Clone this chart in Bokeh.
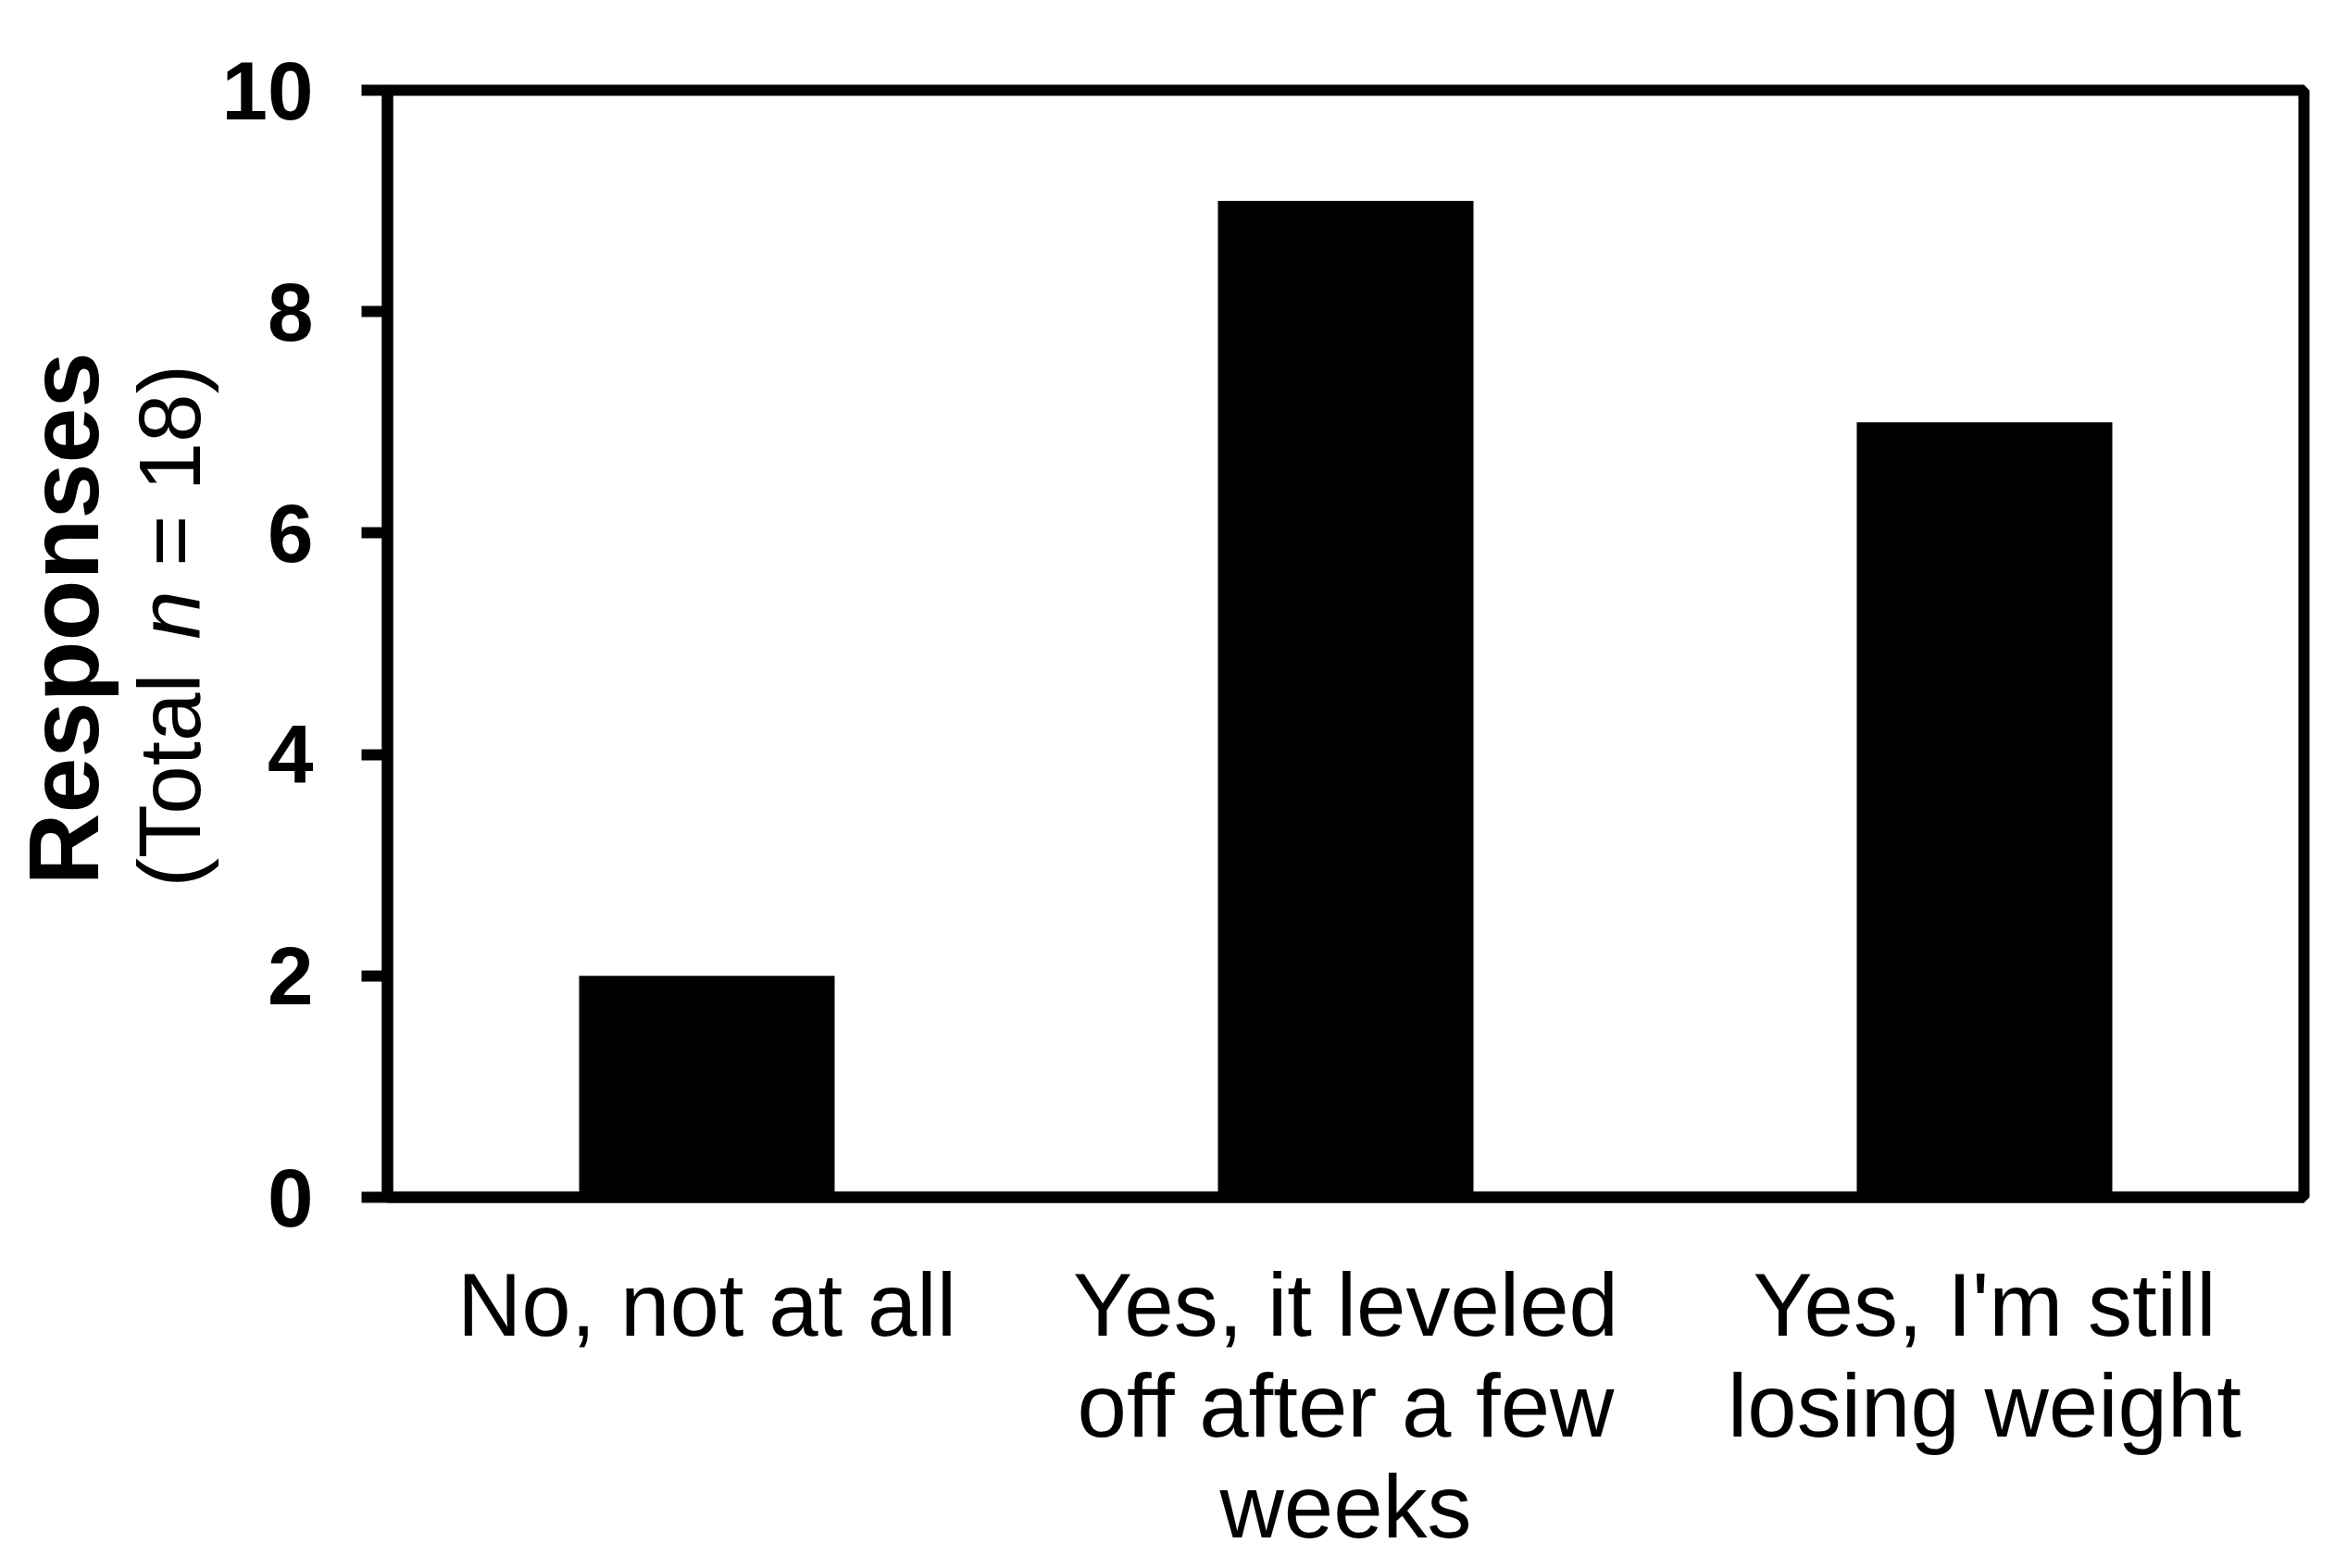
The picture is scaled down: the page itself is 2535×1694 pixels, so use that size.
import math
from bokeh.plotting import figure
from bokeh.layouts import row
from bokeh.models import Range1d, FactorRange, FixedTicker, Label
from bokeh.embed import file_html
from bokeh.resources import INLINE

# ---- data ----
categories = ["No, not at all",
              "Yes, it leveled\noff after a few\nweeks",
              "Yes, I'm still\nlosing weight"]
responses = [2, 9, 7]
y_ticks = [0, 2, 4, 6, 8, 10]
y_title = "Responses"
y_sub_parts = ["(Total", "n", "= 18)"]

FONT = "Liberation Sans"
LW = 12
FRAME_W, FRAME_H = 2070, 1196
TOP, BOTTOM = 97, 392
TITLE_W = 236
TOTAL_H = TOP + FRAME_H + BOTTOM
Y_MAX = 10

# ---- main chart ----
p = figure(x_range=FactorRange(factors=categories), y_range=Range1d(0, Y_MAX),
           frame_width=FRAME_W, frame_height=FRAME_H,
           min_border_left=417 - TITLE_W, min_border_right=40,
           min_border_top=TOP, min_border_bottom=BOTTOM,
           output_backend="svg", toolbar_location=None)

p.vbar(x=categories, top=responses, width=0.4, fill_color="black", line_color=None)

p.xgrid.visible = False
p.ygrid.visible = False
p.outline_line_color = "black"
p.outline_line_width = LW
p.outline_line_alpha = 1.0
p.background_fill_color = "white"
p.border_fill_color = "white"

ya = p.yaxis[0]
ya.ticker = FixedTicker(ticks=y_ticks)
ya.axis_line_width = LW
ya.axis_line_color = "black"
ya.major_tick_line_width = LW
ya.major_tick_line_color = "black"
ya.major_tick_out = 28
ya.major_tick_in = 0
ya.minor_tick_out = 0
ya.minor_tick_in = 0
ya.major_label_standoff = 52
ya.major_label_text_font = FONT
ya.major_label_text_font_style = "bold"
ya.major_label_text_font_size = "89px"
ya.major_label_text_color = "black"

xa = p.xaxis[0]
xa.axis_line_width = LW
xa.axis_line_color = "black"
xa.major_tick_out = 0
xa.major_tick_in = 0
xa.major_tick_line_color = None
xa.minor_tick_line_color = None
xa.major_label_standoff = 62
xa.major_label_text_font = FONT
xa.major_label_text_font_size = "96px"
xa.major_label_text_line_height = 1.02
xa.major_label_text_color = "black"
xa.major_label_orientation = "horizontal"

# ---- y-axis title panel (left); its frame is aligned with the main frame ----
q = figure(width=TITLE_W, height=TOTAL_H,
           x_range=Range1d(0, TITLE_W), y_range=Range1d(TOP + FRAME_H, TOP),
           min_border=0, x_axis_location=None, y_axis_location=None,
           output_backend="svg", toolbar_location=None)
q.xgrid.visible = False
q.ygrid.visible = False
q.outline_line_color = None
q.background_fill_color = "white"
q.border_fill_color = "white"

q.add_layout(Label(x=68, y=668, angle=math.pi / 2, text=y_title,
                   text_align="center", text_baseline="alphabetic",
                   text_font=FONT, text_font_style="bold",
                   text_font_size="108px", text_color="black"))

sub_fs = 94.5
starts_em = [0.0, 2.834, 3.668]
styles = ["normal", "italic", "normal"]
sub_start = 958
for part, st, em in zip(y_sub_parts, styles, starts_em):
    q.add_layout(Label(x=182, y=sub_start - em * sub_fs, angle=math.pi / 2,
                       text=part, text_align="left", text_baseline="alphabetic",
                       text_font=FONT, text_font_style=st,
                       text_font_size=f"{sub_fs}px", text_color="black"))

layout = row(q, p)
open("out.html", "w").write(file_html(layout, INLINE))
